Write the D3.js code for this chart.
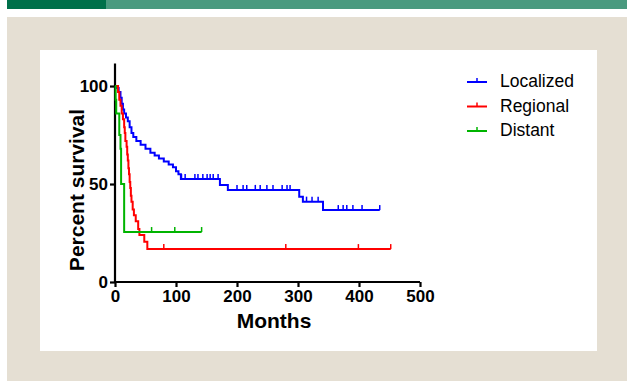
<!DOCTYPE html>
<html>
<head>
<meta charset="utf-8">
<script src="https://cdn.jsdelivr.net/npm/d3@7"></script>
<style>
  body { margin: 0; background: #fff; }
  svg { display: block; font-family: Arial, "Liberation Sans", sans-serif; }
</style>
</head>
<body>
<svg id="chart" width="632" height="381"></svg>
<script>
// Localized
const localizedMonths   = [0, 3, 6, 9, 11, 13, 15, 18, 21, 24, 27, 30, 35, 42, 50, 58, 65, 72, 80, 88, 95, 100, 104, 108, 172, 185, 302, 308, 341, 434];
const localizedSurvival = [100, 99, 97, 94, 91, 88, 86, 84, 82, 79, 76, 74, 72, 70, 68, 66, 64.5, 63, 61.5, 60, 58.5, 56.5, 55, 52.5, 49.5, 47, 43.5, 41, 36.7, 36.7];
const localizedCensored = [109, 115, 131, 136, 144, 151, 156, 161, 169, 200, 210, 216, 230, 238, 249, 259, 274, 282, 287, 314, 323, 333, 366, 374, 380, 390, 405, 434];

// Regional
const regionalMonths   = [0, 5, 7, 9, 11, 13, 15, 16, 17, 19, 20, 21, 22, 23, 24, 25, 26, 27, 29, 31, 34, 38, 40, 48, 53, 452];
const regionalSurvival = [100, 97, 93, 90, 86, 83, 79, 76, 72, 69, 65, 62, 58, 55, 51, 48, 44, 41, 37, 34, 31, 27, 24, 20.6, 16.8, 16.8];
const regionalCensored = [80, 280, 399, 452];

// Distant
const distantMonths   = [0, 1, 2, 7, 9, 10, 15, 142];
const distantSurvival = [100, 93, 86, 75, 68, 50, 25.5, 25.5];
const distantCensored = [60, 98, 142];

const xTicks = [0, 100, 200, 300, 400, 500];
const yTicks = [0, 50, 100];

const series = [
  { name: "Localized", months: localizedMonths, survival: localizedSurvival, censored: localizedCensored, color: "#0000ff" },
  { name: "Regional",  months: regionalMonths,  survival: regionalSurvival,  censored: regionalCensored,  color: "#ff0000" },
  { name: "Distant",   months: distantMonths,   survival: distantSurvival,   censored: distantCensored,   color: "#00b400" }
];

const svg = d3.select("#chart");

// page furniture: green band, beige panel, white card
svg.append("rect").attr("x", 7).attr("y", 0).attr("width", 620).attr("height", 9).attr("fill", "#4a9a7f");
svg.append("rect").attr("x", 7).attr("y", 0).attr("width", 99).attr("height", 9).attr("fill", "#00704a");
svg.append("rect").attr("x", 7).attr("y", 17).attr("width", 620).attr("height", 364).attr("fill", "#e5dfd3");
svg.append("rect").attr("x", 40).attr("y", 50).attr("width", 557).attr("height", 301).attr("fill", "#fff");

const x = d3.scaleLinear().domain([0, 500]).range([115, 420]);
const y = d3.scaleLinear().domain([0, 111.5]).range([282, 63.5]);

// axes
const xAxis = svg.append("g")
  .attr("transform", `translate(0,${y(0)})`)
  .call(d3.axisBottom(x).tickValues(xTicks).tickSize(5).tickPadding(3));
const yAxis = svg.append("g")
  .attr("transform", `translate(${x(0)},0)`)
  .call(d3.axisLeft(y).tickValues(yTicks).tickSize(5).tickPadding(2));

[xAxis, yAxis].forEach(a => {
  a.select(".domain").attr("stroke", "#000").attr("stroke-width", 2.2);
  a.selectAll(".tick line").attr("stroke", "#000").attr("stroke-width", 2.2);
  a.selectAll(".tick text")
    .attr("fill", "#000")
    .style("font-size", "17px")
    .style("font-weight", "bold")
    .style("font-family", "Arial, 'Liberation Sans', sans-serif");
});
// domain paths without outer ticks
xAxis.select(".domain").attr("d", `M${x(0)},0H${x(500)}`);
yAxis.select(".domain").attr("d", `M0,${y(0)}V${y(111.5)}`);

// curves
const line = d3.line()
  .x(d => x(d[0]))
  .y(d => y(d[1]))
  .curve(d3.curveStepAfter);

// value of a step curve at time t
function survivalAt(s, t) {
  let v = s.survival[0];
  for (let i = 0; i < s.months.length; i++) {
    if (s.months[i] <= t) v = s.survival[i];
  }
  return v;
}

series.forEach(s => {
  const pts = s.months.map((m, i) => [m, s.survival[i]]);
  svg.append("path")
    .datum(pts)
    .attr("d", line)
    .attr("fill", "none")
    .attr("stroke", s.color)
    .attr("stroke-width", 2);

  svg.selectAll(null)
    .data(s.censored)
    .enter()
    .append("line")
    .attr("x1", d => x(d))
    .attr("x2", d => x(d))
    .attr("y1", d => y(survivalAt(s, d)))
    .attr("y2", d => y(survivalAt(s, d)) - 5)
    .attr("stroke", s.color)
    .attr("stroke-width", 1.5);
});

// axis titles
svg.append("text")
  .attr("x", 274)
  .attr("y", 328)
  .attr("text-anchor", "middle")
  .style("font-size", "21px")
  .style("font-weight", "bold")
  .text("Months");

svg.append("text")
  .attr("transform", "translate(84,190) rotate(-90)")
  .attr("text-anchor", "middle")
  .style("font-size", "21px")
  .style("font-weight", "bold")
  .text("Percent survival");

// legend
const legend = svg.append("g").attr("transform", "translate(467,82)");
series.forEach((s, i) => {
  const g = legend.append("g").attr("transform", `translate(0,${i * 24.5})`);
  g.append("line").attr("x1", 0).attr("x2", 20).attr("y1", 0).attr("y2", 0)
    .attr("stroke", s.color).attr("stroke-width", 2);
  g.append("line").attr("x1", 10).attr("x2", 10).attr("y1", 0).attr("y2", -4)
    .attr("stroke", s.color).attr("stroke-width", 1.5);
  g.append("text")
    .attr("x", 33)
    .attr("y", 5)
    .style("font-size", "17.5px")
    .attr("fill", "#000")
    .text(s.name);
});
</script>
</body>
</html>
